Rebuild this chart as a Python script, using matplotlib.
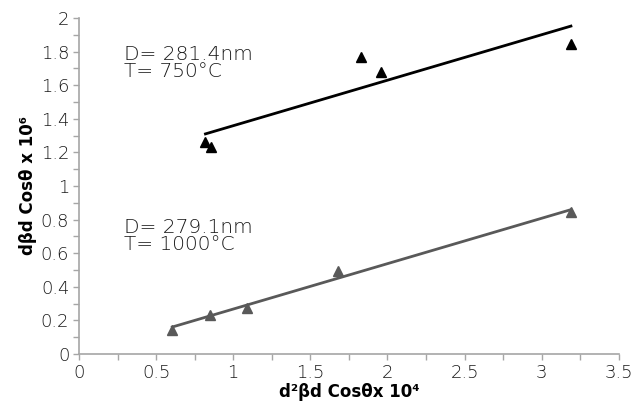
import matplotlib
matplotlib.use('Agg')
import matplotlib.pyplot as plt
from matplotlib.ticker import MultipleLocator
import numpy as np

plt.rcParams['font.family'] = ['DejaVu Sans']

# T = 750 C series
x_750 = [0.82, 0.855, 1.83, 1.96, 3.19]
y_750 = [1.26, 1.23, 1.77, 1.68, 1.845]

# T = 1000 C series
x_1000 = [0.605, 0.849, 1.087, 1.68, 3.19]
y_1000 = [0.143, 0.232, 0.272, 0.496, 0.843]

label_750 = "D= 281.4nm\nT= 750\u00b0C"
label_1000 = "D= 279.1nm\nT= 1000\u00b0C"

fig = plt.figure(figsize=(6.32, 4.11), dpi=100)
ax = fig.add_axes([0.125, 0.139, 0.854, 0.817])

axis_col = '#A6A6A6'
text_col = '#1a1a1a'

for xs, ys, col in [(x_750, y_750, 'black'), (x_1000, y_1000, '#595959')]:
    ax.plot(xs, ys, linestyle='none', marker='^', color=col, markersize=7)
    # linear trendline
    k, b = np.polyfit(xs, ys, 1)
    xt = np.array([min(xs), max(xs)])
    ax.plot(xt, k * xt + b, color=col, linewidth=2)

ax.text(0.29, 1.84, label_750, fontsize=14.5, fontweight='light', color=text_col,
        va='top', ha='left', linespacing=0.9)
ax.text(0.29, 0.81, label_1000, fontsize=14.5, fontweight='light', color=text_col,
        va='top', ha='left', linespacing=0.9)

ax.set_xlim(0, 3.5)
ax.set_ylim(0, 2)
ax.xaxis.set_major_locator(MultipleLocator(0.5))
ax.xaxis.set_minor_locator(MultipleLocator(0.25))
ax.yaxis.set_major_locator(MultipleLocator(0.2))
ax.yaxis.set_minor_locator(MultipleLocator(0.1))
ax.set_xticklabels([f'{v:g}' for v in ax.get_xticks()], fontweight='light')
ax.set_yticklabels([f'{v:g}' for v in ax.get_yticks()], fontweight='light')

for s in ['top', 'right']:
    ax.spines[s].set_visible(False)
for s in ['left', 'bottom']:
    ax.spines[s].set_color(axis_col)
    ax.spines[s].set_linewidth(1.2)
ax.tick_params(which='both', direction='out', color=axis_col, width=1, labelsize=13, labelcolor=text_col)
ax.tick_params(which='major', length=4, pad=3)
ax.tick_params(which='minor', length=4)

ax.set_xlabel('d\u00b2\u03b2d Cos\u03b8x 10\u2074', fontsize=12, fontweight='bold', labelpad=1)
ax.set_ylabel('d\u03b2d Cos\u03b8 x 10\u2076', fontsize=12, fontweight='bold', labelpad=3)

fig.savefig('out.png', dpi=100)
